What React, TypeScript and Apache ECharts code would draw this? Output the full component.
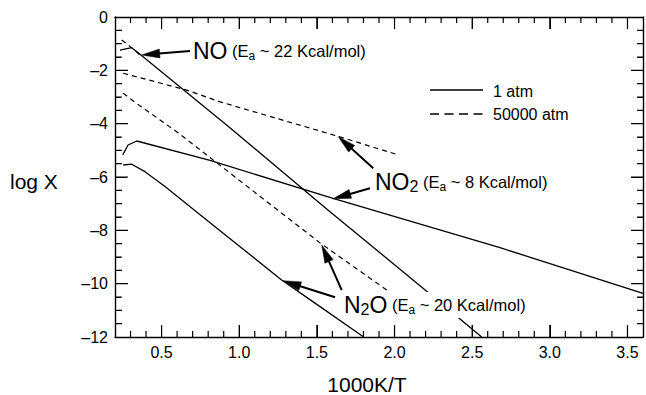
import React, { useEffect, useRef } from 'react';
import * as echarts from 'echarts';

const FONT = "'Liberation Sans', Arial, Helvetica, sans-serif";

// x = 1000K/T, y = log X
const noX1 = [0.232, 0.3075, 0.361, 0.94, 1.563, 2.207, 2.561];
const noY1 = [-1.24, -1.15, -1.4, -4.15, -7.2, -10.28, -12.0];
const noX5 = [0.243, 0.3, 0.361];
const noY5 = [-0.86, -1.12, -1.42];
const no2X1 = [0.25, 0.284, 0.34, 0.812, 1.604, 2.679, 3.6];
const no2Y1 = [-5.17, -4.8, -4.65, -5.38, -6.8, -8.65, -10.36];
const no2X5 = [0.253, 0.662, 0.876, 1.628, 2.024];
const no2Y5 = [-2.11, -2.74, -3.18, -4.46, -5.17];
const n2oX1 = [0.253, 0.3075, 0.393, 0.522, 0.736, 0.951, 1.273, 1.488, 1.799];
const n2oY1 = [-5.55, -5.52, -5.8, -6.36, -7.36, -8.36, -9.86, -10.73, -11.99];
const n2oX5 = [0.253, 0.329, 0.597, 0.94, 1.52, 1.95];
const n2oY5 = [-2.86, -3.2, -4.3, -5.85, -8.47, -10.24];

const X_MIN = 0.2;
const X_MAX = 3.6;
const Y_MIN = -12;
const Y_MAX = 0;
const xMajor = [0.5, 1.0, 1.5, 2.0, 2.5, 3.0, 3.5];
const xMinor = [
  0.3, 0.4, 0.6, 0.7, 0.8, 0.9, 1.1, 1.2, 1.3, 1.4, 1.6, 1.7, 1.8, 1.9,
  2.1, 2.2, 2.3, 2.4, 2.6, 2.7, 2.8, 2.9, 3.1, 3.2, 3.3, 3.4,
];
const yMajor = [-10, -8, -6, -4, -2];
const yMinor = [
  -11.5, -11, -10.5, -9.5, -9, -8.5, -7.5, -7, -6.5, -5.5, -5, -4.5,
  -3.5, -3, -2.5, -1.5, -1, -0.5,
];

const legendNames = ['1 atm', '50000 atm'];

// arrows: [fromX, fromY, toX, toY]
const arrows = [
  [0.683, -1.275, 0.372, -1.425],
  [1.863, -5.67, 1.638, -4.49],
  [1.842, -6.42, 1.604, -6.82],
  [1.66, -10.24, 1.531, -8.55],
  [1.617, -10.51, 1.282, -9.89],
];

// label anchors (left, vertical middle) in data coords, and their texts
const labelPos = [
  [0.702, -1.275],
  [1.874, -6.19],
  [1.668, -10.8],
];
const labelTexts = [
  '{big|NO}{sm| (E}{ssub|a}{sm| ~ 22 Kcal/mol)}',
  '{big|NO}{bsub|2}{sm| (E}{ssub|a}{sm| ~ 8 Kcal/mol)}',
  '{big|N}{bsub|2}{big|O}{sm| (E}{ssub|a}{sm| ~ 20 Kcal/mol)}',
];

const zip = (xs: number[], ys: number[]) => xs.map((x, i) => [x, ys[i]]);

const rich = {
  big: { fontSize: 23, fontFamily: FONT, fill: '#000' },
  bsub: { fontSize: 16, fontFamily: FONT, fill: '#000', padding: [8, 0, 0, 0] },
  sm: { fontSize: 16.5, fontFamily: FONT, fill: '#000' },
  ssub: { fontSize: 12, fontFamily: FONT, fill: '#000', padding: [9, 0, 0, 0] },
};

// tick lengths expressed in axis units (plot is 528 px for 3.4 x-units, 320 px for 12 y-units)
const X_UNIT_PX = 528 / (X_MAX - X_MIN);
const Y_UNIT_PX = 320 / (Y_MAX - Y_MIN);
const GAP: any[] = ['-', '-'];

function buildTickPath(major: number[], minor: number[], majorPx: number, minorPx: number, vertical: boolean) {
  const out: any[] = [];
  const add = (v: number, px: number) => {
    if (vertical) {
      const d = px / Y_UNIT_PX;
      out.push([v, Y_MIN], [v, Y_MIN + d], GAP, [v, Y_MAX], [v, Y_MAX - d], GAP);
    } else {
      const dl = px / X_UNIT_PX;
      const dr = (px - 1) / X_UNIT_PX;
      out.push([X_MIN, v], [X_MIN + dl, v], GAP, [X_MAX, v], [X_MAX - dr, v], GAP);
    }
  };
  major.forEach((v) => add(v, majorPx));
  minor.forEach((v) => add(v, minorPx));
  return out;
}

const xTickPath = buildTickPath(xMajor, xMinor, 12, 6, true);
const yTickPath = buildTickPath(yMajor, yMinor, 13, 7, false);

export default function App() {
  const ref = useRef<HTMLDivElement>(null);
  useEffect(() => {
    if (!ref.current) return;
    const chart = echarts.init(ref.current, undefined, { renderer: 'svg' });
    const solid = { color: '#000', width: 1.3, type: 'solid' as const };
    const dashed = { color: '#000', width: 1.2, type: [5, 4] as any };
    const lineSeries = (name: string, data: any[], ls: any, extra: any = {}) => ({
      type: 'line',
      name,
      data,
      symbol: 'none',
      lineStyle: ls,
      silent: true,
      connectNulls: false,
      z: 3,
      ...extra,
    });
    const xAxisOf = (position: string, labels: boolean) => ({
      type: 'value',
      min: X_MIN,
      max: X_MAX,
      position,
      splitLine: { show: false },
      axisLine: { show: true, onZero: false, lineStyle: { color: '#000', width: 1.4 } },
      axisTick: { show: true, inside: true, length: 12, customValues: xMajor },
      axisLabel: labels
        ? {
            show: true,
            customValues: xMajor,
            margin: 7,
            fontFamily: FONT,
            fontSize: 16,
            color: '#000',
            formatter: (v: number) => v.toFixed(1),
          }
        : { show: false },
    });
    const yAxisOf = (position: string, labels: boolean) => ({
      type: 'value',
      min: Y_MIN,
      max: Y_MAX,
      interval: 2,
      position,
      splitLine: { show: false },
      axisLine: { show: true, onZero: false, lineStyle: { color: '#000', width: 1.4 } },
      axisTick: { show: true, inside: true, length: 12 },
      minorTick: { show: true, splitNumber: 4, length: 6 },
      axisLabel: labels
        ? {
            show: true,
            margin: 7,
            fontFamily: FONT,
            fontSize: 16,
            color: '#000',
            formatter: (v: number) => (v < 0 ? '\u2013' + Math.abs(v) : String(v)),
          }
        : { show: false },
    });
    const option: any = {
      animation: false,
      grid: { left: 115, right: 3, top: 17, bottom: 58 },
      xAxis: [xAxisOf('bottom', true), xAxisOf('top', false)],
      yAxis: [yAxisOf('left', true), yAxisOf('right', false)],
      series: [
        lineSeries(legendNames[0], zip(noX1, noY1), solid),
        lineSeries(legendNames[1], zip(noX5, noY5), dashed),
        lineSeries(legendNames[0], zip(no2X1, no2Y1), solid),
        lineSeries(legendNames[1], zip(no2X5, no2Y5), dashed),
        lineSeries(legendNames[0], zip(n2oX1, n2oY1), solid),
        lineSeries(legendNames[1], zip(n2oX5, n2oY5), dashed),
        lineSeries('xTicks', xTickPath, { color: '#000', width: 1.2, type: 'solid' }, { clip: false }),
        lineSeries('yTicks', yTickPath, { color: '#000', width: 1.2, type: 'solid' }, { clip: false }),
        {
          type: 'custom',
          name: 'arrows',
          silent: true,
          z: 4,
          data: arrows,
          encode: { x: [0, 2], y: [1, 3] },
          renderItem: (_p: any, api: any) => {
            const p1 = api.coord([api.value(0), api.value(1)]);
            const p2 = api.coord([api.value(2), api.value(3)]);
            const dx = p2[0] - p1[0];
            const dy = p2[1] - p1[1];
            const len = Math.hypot(dx, dy) || 1;
            const ux = dx / len;
            const uy = dy / len;
            const hl = 18;
            const hw = 4.5;
            const bx = p2[0] - ux * hl;
            const by = p2[1] - uy * hl;
            return {
              type: 'group',
              children: [
                {
                  type: 'line',
                  shape: { x1: p1[0], y1: p1[1], x2: bx + ux * 4, y2: by + uy * 4 },
                  style: { stroke: '#000', lineWidth: 2 },
                },
                {
                  type: 'polygon',
                  shape: {
                    points: [
                      [p2[0], p2[1]],
                      [bx - uy * hw, by + ux * hw],
                      [bx + uy * hw, by - ux * hw],
                    ],
                  },
                  style: { fill: '#000', stroke: '#000', lineWidth: 0.5 },
                },
              ],
            };
          },
        },
        {
          type: 'custom',
          name: 'labels',
          silent: true,
          z: 6,
          clip: false,
          data: labelPos.map((p, i) => [p[0], p[1], i]),
          encode: { x: 0, y: 1 },
          renderItem: (_p: any, api: any) => {
            const p = api.coord([api.value(0), api.value(1)]);
            const i = api.value(2);
            const withBg = i === 2;
            return {
              type: 'text',
              x: p[0],
              y: p[1],
              style: {
                text: labelTexts[i],
                rich,
                align: 'left',
                verticalAlign: 'middle',
                ...(withBg ? { backgroundColor: '#fff', padding: [1, 3, 1, 1] } : {}),
              },
            };
          },
        },
      ],
      graphic: [
        // legend
        { type: 'line', z: 100, shape: { x1: 430, y1: 90, x2: 483, y2: 90 }, style: { stroke: '#000', lineWidth: 1.3 } },
        {
          type: 'line',
          z: 100,
          shape: { x1: 430, y1: 114, x2: 483, y2: 114 },
          style: { stroke: '#000', lineWidth: 1.3, lineDash: [9, 5.5] },
        },
        {
          type: 'text',
          x: 493,
          y: 91,
          z: 100,
          style: { text: legendNames[0], fontFamily: FONT, fontSize: 16, fill: '#000', align: 'left', verticalAlign: 'middle' },
        },
        {
          type: 'text',
          x: 493,
          y: 114,
          z: 100,
          style: { text: legendNames[1], fontFamily: FONT, fontSize: 16, fill: '#000', align: 'left', verticalAlign: 'middle' },
        },
        {
          type: 'text',
          x: 10,
          y: 181,
          z: 100,
          style: { text: 'log X', fontFamily: FONT, fontSize: 21, fill: '#000', align: 'left', verticalAlign: 'middle' },
        },
        {
          type: 'text',
          x: 367,
          y: 384,
          z: 100,
          style: { text: '1000K/T', fontFamily: FONT, fontSize: 21, fill: '#000', align: 'center', verticalAlign: 'middle' },
        },
      ],
    };
    chart.setOption(option);
    return () => chart.dispose();
  }, []);
  return (
    <div style={{ position: 'fixed', left: 0, top: 0, width: 646, height: 395, background: '#fff' }}>
      <div ref={ref} style={{ width: 646, height: 395 }} />
    </div>
  );
}
